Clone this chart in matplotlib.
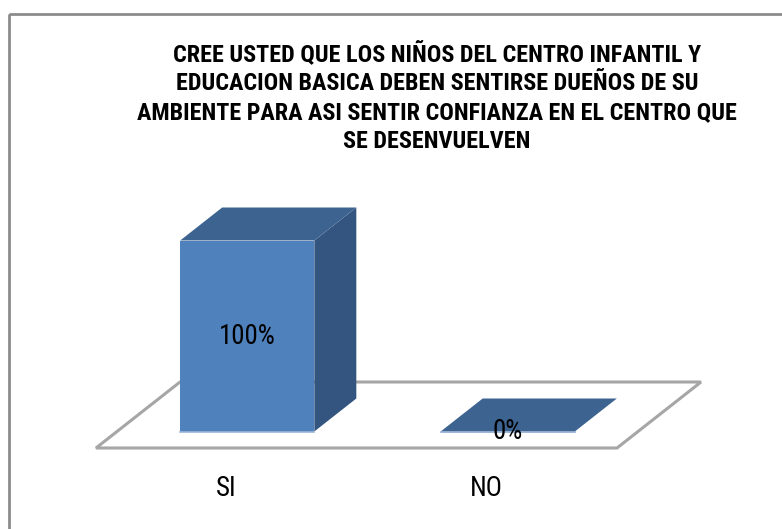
import matplotlib
matplotlib.use("Agg")
import matplotlib.pyplot as plt
from matplotlib.patches import Polygon, Rectangle
from matplotlib import font_manager

# datos del grafico
categorias = ["SI", "NO"]
porcentajes = [100, 0]
etiquetas = ["100%", "0%"]
titulo = ["CREE USTED QUE LOS NIÑOS DEL CENTRO INFANTIL Y",
          "EDUCACION BASICA DEBEN SENTIRSE DUEÑOS DE SU",
          "AMBIENTE PARA ASI SENTIR CONFIANZA EN EL CENTRO QUE",
          "SE DESENVUELVEN"]

# fuente estrecha (Roboto Condensed si existe, si no DejaVu condensada)
nombres = {f.name for f in font_manager.fontManager.ttflist}
fuente = "Roboto Condensed" if "Roboto Condensed" in nombres else "DejaVu Sans"

# parametros de la proyeccion oblicua (en pixeles)
origen = (96.0, 448.0)      # esquina frontal izquierda del piso
ancho_cat = 260.5           # ancho de cada categoria
prof = (84.0, -66.0)        # vector de profundidad del piso
escala = 191.0 / 100        # pixeles por punto porcentual
ancho_barra = 0.515         # fraccion del ancho de categoria
z0, z1 = 0.25, 0.75         # profundidad de la barra

c_frente = "#4F81BD"
c_arriba = "#3D6391"
c_lado = "#34557F"
c_piso = "#A6A6A6"


def proy(x, v, z):
    """x en unidades de categoria, v en %, z en fraccion de profundidad"""
    px = origen[0] + x * ancho_cat + z * prof[0]
    py = origen[1] - v * escala + z * prof[1]
    return (px, py)


fig = plt.figure(figsize=(7.82, 5.29), dpi=100)
ax = fig.add_axes([0, 0, 1, 1])
ax.set_xlim(0, 782)
ax.set_ylim(529, 0)
ax.axis("off")

# marco del grafico
ax.add_patch(Rectangle((8.5, 14), 800, 600, fill=False, ec="#8C8C8C", lw=2.0))

# piso
n = len(categorias)
piso = [proy(0, 0, 0), proy(n, 0, 0), proy(n, 0, 1), proy(0, 0, 1)]
ax.add_patch(Polygon(piso, closed=True, fc="white", ec=c_piso, lw=2.2, zorder=1))

etis = []
for i, (cat, val, lab) in enumerate(zip(categorias, porcentajes, etiquetas)):
    xa = i + (1 - ancho_barra) / 2
    xb = xa + ancho_barra
    arriba = [proy(xa, val, z0), proy(xb, val, z0), proy(xb, val, z1), proy(xa, val, z1)]
    if val > 0:
        frente = [proy(xa, 0, z0), proy(xb, 0, z0), proy(xb, val, z0), proy(xa, val, z0)]
        lado = [proy(xb, 0, z0), proy(xb, 0, z1), proy(xb, val, z1), proy(xb, val, z0)]
        ax.add_patch(Polygon(lado, closed=True, fc=c_lado, ec="none", zorder=2))
        ax.add_patch(Polygon(frente, closed=True, fc=c_frente, ec="none", zorder=3))
        ax.add_patch(Polygon(arriba, closed=True, fc=c_arriba, ec="none", zorder=2))
        ax.plot([proy(xa, 0, z0)[0], proy(xb, 0, z0)[0]],
                [proy(xa, 0, z0)[1] + 0.5] * 2, color="#9DB5D8", lw=1.2, zorder=4)
        ty = proy(xa, val / 2, z0)[1]
    else:
        ax.add_patch(Polygon(arriba, closed=True, fc=c_arriba, ec="none", zorder=2))
        ax.plot([arriba[0][0], arriba[1][0]], [arriba[0][1] + 0.5] * 2,
                color="#8FA9CF", lw=1.2, zorder=3)
        ty = proy(xa, 0, z0)[1]
    tx = (proy(xa, 0, z0)[0] + proy(xb, 0, z0)[0]) / 2
    etis.append(ax.text(tx, ty, lab, ha="center", va="center", fontsize=16,
                        family=fuente, fontstretch="condensed", color="black", zorder=5))
    # etiqueta de categoria al frente del piso
    cx = proy(i + 0.5, 0, 0)[0]
    etis.append(ax.text(cx, 488, cat, ha="center", va="center", fontsize=16,
                        family=fuente, fontstretch="condensed", color="black"))

# titulo: una linea por texto, ajustado al ancho del original (~600 px)
textos = []
for k, linea in enumerate(titulo):
    textos.append(ax.text(437, 54 + k * 29.3, linea, ha="center", va="center",
                          fontsize=16, family=fuente, fontstretch="condensed",
                          fontweight="bold"))
rend = fig.canvas.get_renderer()
ancho = max(t.get_window_extent(rend).width for t in textos)
for t in textos:
    t.set_fontsize(16 * 600 / ancho)
# etiquetas: "100%" mide ~57 px en el original
a100 = etis[0].get_window_extent(rend).width
for t in etis:
    t.set_fontsize(16 * 57 / a100)

fig.savefig("out.png", dpi=100)
